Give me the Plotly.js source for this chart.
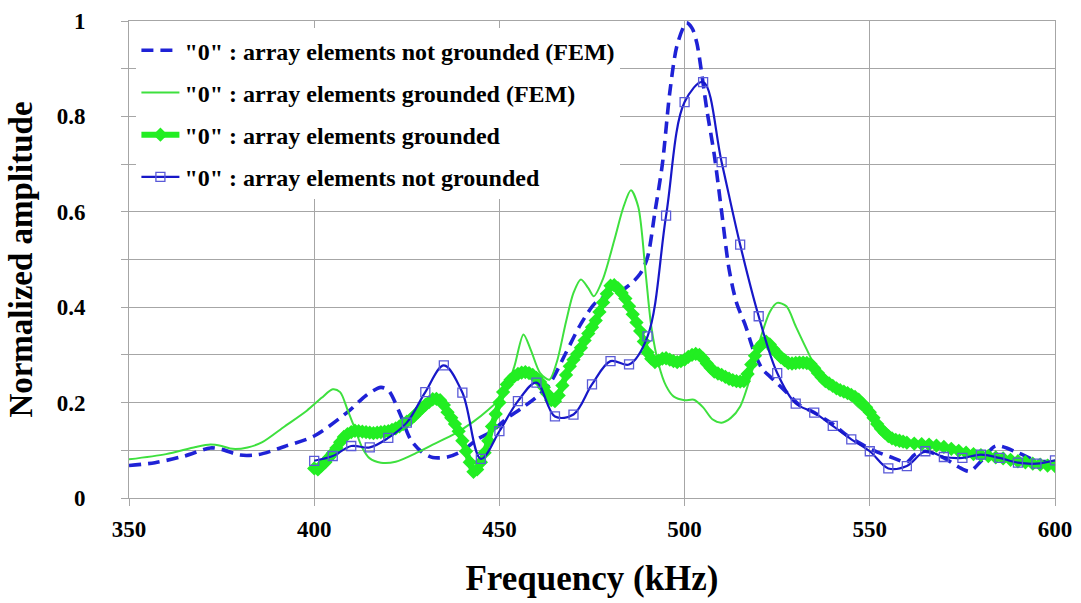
<!DOCTYPE html>
<html>
<head>
<meta charset="utf-8">
<script src="https://cdn.plot.ly/plotly-3.0.1.min.js"></script>
<style>
  html, body { margin: 0; padding: 0; background: #ffffff; }
  #chart { width: 1081px; height: 603px; }
</style>
</head>
<body>
<div id="chart"></div>
<script>
// Series names
const seriesNames = [
  '"0" : array elements not grounded (FEM)',
  '"0" : array elements grounded (FEM)',
  '"0" : array elements grounded',
  '"0" : array elements not grounded'
];

// FEM, not grounded (blue dashed)
const freqFemNotGrounded = [350, 357, 365, 372, 375, 380, 385, 392, 400, 409, 414, 418, 420, 423, 426, 429, 432, 436, 440, 444, 448, 452, 456, 461, 464, 468, 472, 476, 480, 484, 488, 490, 492, 494, 496, 498, 500.5, 502, 503.3, 506, 508, 510, 512, 514, 516.5, 518.6, 521, 523, 527.6, 531, 535, 540, 544, 551, 556, 560, 562, 565, 570, 574, 577, 580, 584, 590, 595, 600];
const ampFemNotGrounded = [0.068, 0.074, 0.088, 0.105, 0.102, 0.090, 0.091, 0.108, 0.130, 0.180, 0.215, 0.232, 0.226, 0.180, 0.123, 0.097, 0.085, 0.086, 0.099, 0.123, 0.140, 0.167, 0.188, 0.218, 0.245, 0.305, 0.365, 0.410, 0.428, 0.440, 0.470, 0.505, 0.600, 0.700, 0.850, 0.950, 0.996, 0.985, 0.954, 0.814, 0.720, 0.600, 0.480, 0.410, 0.360, 0.310, 0.270, 0.255, 0.221, 0.195, 0.179, 0.155, 0.130, 0.100, 0.085, 0.075, 0.090, 0.098, 0.084, 0.065, 0.056, 0.077, 0.109, 0.095, 0.078, 0.077];

// FEM, grounded (thin green)
const freqFemGrounded = [350, 360, 368, 372, 375, 378, 382, 386, 392, 398, 402, 405, 407, 409, 411, 413, 415, 418, 422, 428, 432, 438, 443, 447, 451, 454, 456.5, 458.5, 461, 463.5, 465.5, 468, 470, 472, 474, 475.5, 478, 481, 483.5, 485.5, 487.5, 489.5, 491, 493, 495, 497, 500, 502.5, 505, 507.5, 510, 512.5, 515, 518, 520.5, 523, 525, 527.5, 530, 533, 536.5, 540, 544, 547, 551, 555, 558, 563, 567, 575, 585, 592, 600];
const ampFemGrounded = [0.081, 0.092, 0.107, 0.112, 0.109, 0.103, 0.106, 0.117, 0.150, 0.183, 0.210, 0.228, 0.222, 0.185, 0.145, 0.105, 0.083, 0.074, 0.076, 0.096, 0.112, 0.135, 0.160, 0.185, 0.215, 0.275, 0.343, 0.310, 0.262, 0.248, 0.285, 0.370, 0.430, 0.458, 0.440, 0.423, 0.460, 0.540, 0.610, 0.645, 0.610, 0.470, 0.360, 0.280, 0.235, 0.213, 0.205, 0.206, 0.190, 0.165, 0.158, 0.168, 0.192, 0.260, 0.335, 0.390, 0.409, 0.402, 0.360, 0.311, 0.258, 0.235, 0.213, 0.190, 0.165, 0.140, 0.123, 0.110, 0.108, 0.098, 0.088, 0.078, 0.067];

// Measured, grounded (thick green with diamonds)
const freqGrounded = [400, 401, 402, 403, 404, 405, 406, 407, 408, 409, 410, 411, 412, 413, 414, 415, 416, 417, 418, 419, 420, 421, 422, 423, 424, 425, 426, 427, 428, 429, 430, 431, 432, 433, 434, 435, 436, 437, 438, 439, 440, 441, 442, 443, 444, 445, 446, 447, 448, 449, 450, 451, 452, 453, 454, 455, 456, 457, 458, 459, 460, 461, 462, 463, 464, 465, 466, 467, 468, 469, 470, 471, 472, 473, 474, 475, 476, 477, 478, 479, 480, 481, 482, 483, 484, 485, 486, 487, 488, 489, 490, 491, 492, 493, 494, 495, 496, 497, 498, 499, 500, 501, 502, 503, 504, 505, 506, 507, 508, 509, 510, 511, 512, 513, 514, 515, 516, 517, 518, 519, 520, 521, 522, 523, 524, 525, 526, 527, 528, 529, 530, 531, 532, 533, 534, 535, 536, 537, 538, 539, 540, 541, 542, 543, 544, 545, 546, 547, 548, 549, 550, 551, 552, 553, 554, 555, 556, 557, 558, 559, 560, 562, 564, 566, 568, 570, 572, 574, 576, 578, 580, 582, 584, 586, 588, 590, 592, 594, 596, 598, 600];
const ampGrounded = [0.062, 0.060, 0.068, 0.075, 0.085, 0.094, 0.105, 0.117, 0.128, 0.134, 0.138, 0.141, 0.140, 0.139, 0.138, 0.137, 0.136, 0.137, 0.138, 0.139, 0.140, 0.143, 0.146, 0.150, 0.155, 0.160, 0.165, 0.172, 0.180, 0.188, 0.195, 0.201, 0.207, 0.208, 0.205, 0.195, 0.180, 0.168, 0.155, 0.140, 0.120, 0.098, 0.075, 0.055, 0.060, 0.075, 0.095, 0.120, 0.150, 0.176, 0.200, 0.222, 0.238, 0.248, 0.255, 0.260, 0.263, 0.264, 0.262, 0.258, 0.252, 0.243, 0.232, 0.218, 0.205, 0.203, 0.215, 0.236, 0.258, 0.276, 0.290, 0.302, 0.315, 0.330, 0.345, 0.358, 0.372, 0.390, 0.410, 0.428, 0.445, 0.446, 0.440, 0.430, 0.418, 0.402, 0.385, 0.368, 0.350, 0.328, 0.305, 0.292, 0.285, 0.288, 0.292, 0.293, 0.290, 0.287, 0.285, 0.287, 0.290, 0.296, 0.300, 0.302, 0.300, 0.292, 0.282, 0.273, 0.265, 0.261, 0.258, 0.254, 0.250, 0.247, 0.245, 0.244, 0.245, 0.260, 0.280, 0.298, 0.315, 0.324, 0.328, 0.322, 0.312, 0.303, 0.295, 0.289, 0.283, 0.282, 0.283, 0.284, 0.284, 0.283, 0.281, 0.272, 0.262, 0.253, 0.245, 0.240, 0.235, 0.230, 0.226, 0.223, 0.220, 0.216, 0.212, 0.206, 0.198, 0.190, 0.180, 0.168, 0.155, 0.145, 0.137, 0.130, 0.125, 0.122, 0.120, 0.118, 0.116, 0.114, 0.113, 0.112, 0.110, 0.107, 0.103, 0.099, 0.095, 0.092, 0.090, 0.088, 0.085, 0.083, 0.080, 0.077, 0.075, 0.072, 0.070, 0.068, 0.067];

// Measured, not grounded (blue with open squares)
const freqNotGrounded = [400, 405, 410, 415, 420, 425, 430, 435, 440, 445, 450, 455, 460, 465, 470, 475, 480, 485, 490, 495, 500, 505, 510, 515, 520, 525, 530, 535, 540, 545, 550, 555, 560, 565, 570, 575, 580, 585, 590, 595, 600];
const ampNotGrounded = [0.078, 0.088, 0.109, 0.106, 0.126, 0.158, 0.222, 0.278, 0.221, 0.082, 0.140, 0.203, 0.242, 0.171, 0.175, 0.238, 0.287, 0.280, 0.339, 0.592, 0.830, 0.872, 0.704, 0.531, 0.381, 0.262, 0.198, 0.179, 0.151, 0.123, 0.098, 0.062, 0.067, 0.098, 0.086, 0.084, 0.091, 0.084, 0.074, 0.072, 0.079];

// Axis ticks
const xTickVals = [350, 400, 450, 500, 550, 600];
const yTickVals = [0, 0.2, 0.4, 0.6, 0.8, 1];
const yTickText = ['0', '0.2', '0.4', '0.6', '0.8', '1'];

const FONT = 'Liberation Serif, Times New Roman, serif';
const GRID = '#a6a6a6';

const traces = [
  {
    x: freqFemNotGrounded, y: ampFemNotGrounded, name: '<b>' + seriesNames[0] + '</b>',
    type: 'scatter', mode: 'lines', legendgroup: 'a',
    line: { color: '#1f22d6', width: 3.6, dash: '12px,7px', shape: 'spline', smoothing: 0.8 }
  },
  {
    x: freqFemGrounded, y: ampFemGrounded, name: '<b>' + seriesNames[1] + '</b>',
    type: 'scatter', mode: 'lines', legendgroup: 'b',
    line: { color: '#3ee03e', width: 2, shape: 'spline', smoothing: 0.8 }
  },
  {
    x: freqGrounded, y: ampGrounded, name: '<b>' + seriesNames[2] + '</b>',
    type: 'scatter', mode: 'lines+markers', legendgroup: 'c',
    line: { color: '#22ee22', width: 6, shape: 'spline', smoothing: 0.6 },
    marker: { symbol: 'diamond', size: 11, color: '#22ee22' }
  },
  {
    x: freqNotGrounded, y: ampNotGrounded, name: '<b>' + seriesNames[3] + '</b>',
    type: 'scatter', mode: 'lines+markers', legendgroup: 'd',
    line: { color: '#1717c8', width: 2.2, shape: 'spline', smoothing: 1 },
    marker: { symbol: 'square-open', size: 9, color: '#5a5ad8', line: { width: 1.3, color: '#5a5ad8' } }
  }
];

const layout = {
  width: 1081, height: 603,
  margin: { l: 129, r: 26, t: 21, b: 104.5 },
  paper_bgcolor: '#ffffff', plot_bgcolor: '#ffffff',
  showlegend: true,
  legend: {
    x: 0.008, y: 0.985, xanchor: 'left', yanchor: 'top',
    bgcolor: '#ffffff', borderwidth: 0,
    font: { family: FONT, size: 24, color: '#000000' },
    traceorder: 'grouped', tracegroupgap: 8,
    itemwidth: 38
  },
  xaxis: {
    range: [350, 600], tickmode: 'array', tickvals: xTickVals,
    showgrid: true, gridcolor: GRID, gridwidth: 1,
    showline: true, linecolor: GRID, linewidth: 1, mirror: true,
    ticks: 'outside', ticklen: 7, tickcolor: GRID,
    zeroline: false,
    tickfont: { family: FONT, size: 23, color: '#000000', weight: 'bold' },
    ticklabelstandoff: 3,
    title: { text: '<b>Frequency (kHz)</b>', font: { family: FONT, size: 35, color: '#000000' }, standoff: 24 }
  },
  yaxis: {
    range: [0, 1], tickmode: 'array', tickvals: yTickVals, ticktext: yTickText,
    showgrid: true, gridcolor: GRID, gridwidth: 1,
    minor: { dtick: 0.1, showgrid: true, gridcolor: GRID, gridwidth: 1, ticks: 'outside', ticklen: 7, tickcolor: GRID },
    showline: true, linecolor: GRID, linewidth: 1, mirror: true,
    ticks: 'outside', ticklen: 7, tickcolor: GRID,
    zeroline: false,
    tickfont: { family: FONT, size: 23, color: '#000000', weight: 'bold' },
    ticklabelstandoff: 31,
    title: { text: '<b>Normalized amplitude</b>', font: { family: FONT, size: 33, color: '#000000' }, standoff: 14 }
  }
};

Plotly.newPlot('chart', traces, layout, { displayModeBar: false, staticPlot: true });
</script>
</body>
</html>
